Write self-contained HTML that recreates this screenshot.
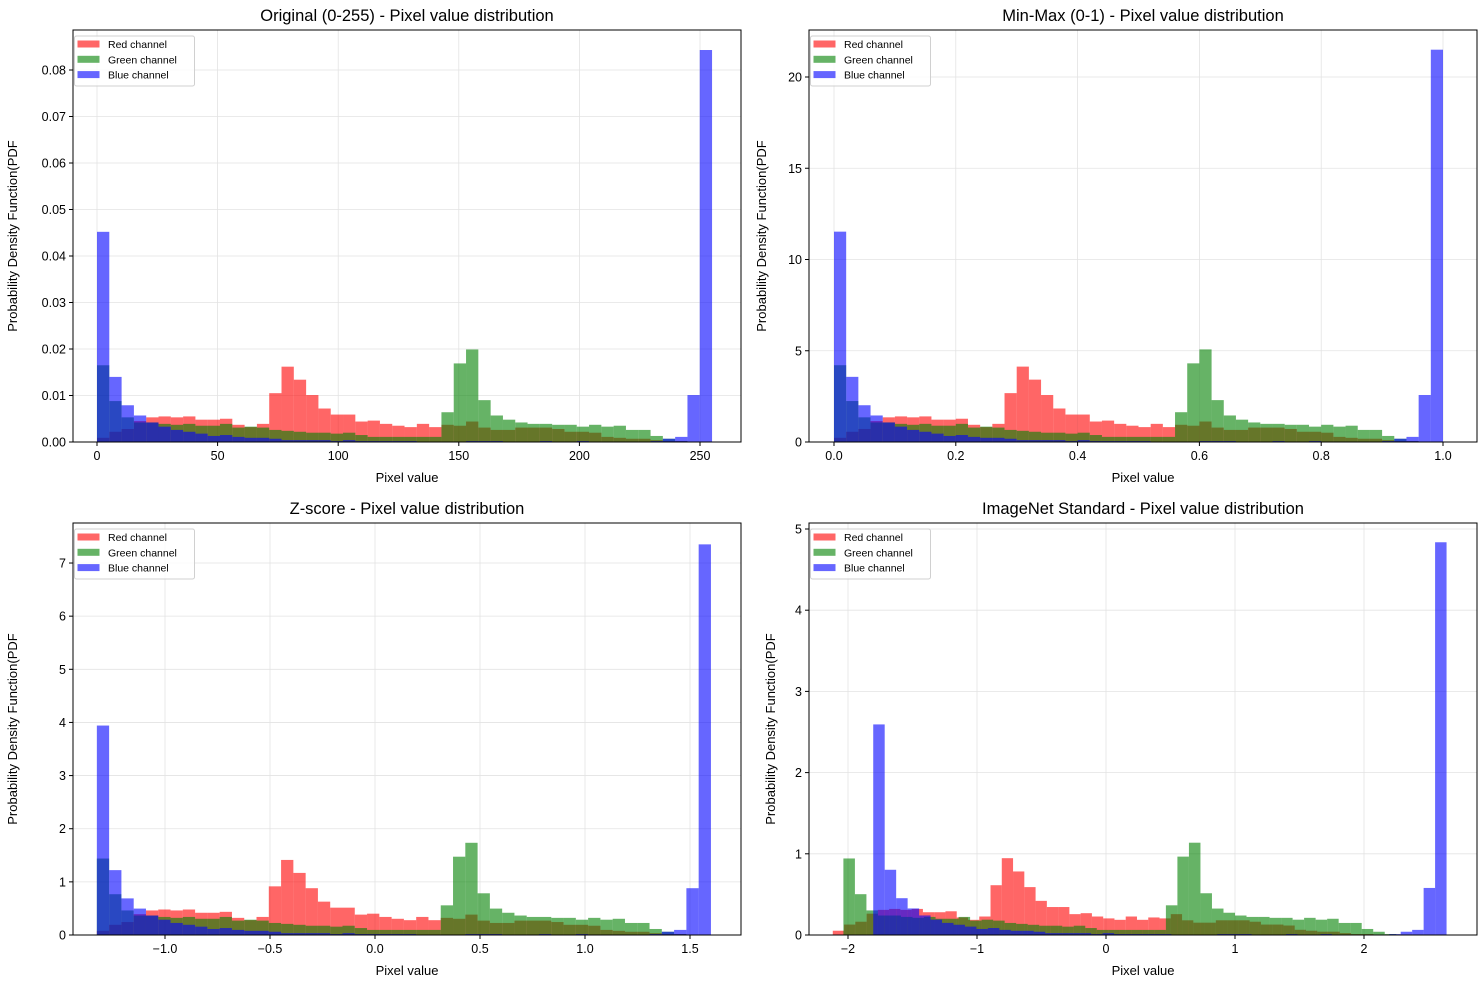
<!DOCTYPE html>
<html><head><meta charset="utf-8"><style>
html,body{margin:0;padding:0;background:#fff}
svg{display:block;font-family:"Liberation Sans","DejaVu Sans",sans-serif}
</style></head><body>
<svg id="fig" width="1483" height="982" xmlns="http://www.w3.org/2000/svg"></svg>
<script>
// Pixel-domain densities (x0.001) for 50 bins spanning 0..255
const redDensity = [0.9,2.2,2.8,4.5,5.3,5.5,5.3,5.5,4.8,4.8,5.0,3.7,3.2,3.9,10.5,16.2,13.4,10.1,7.2,5.9,5.9,4.4,4.6,3.9,3.5,3.2,3.9,3.2,3.7,3.5,4.4,3.1,2.6,2.6,3.1,3.1,3.1,2.8,2.2,2.2,2.0,1.1,0.9,0.7,0.7,0.4,0.2,0.2,0.1,0.1];
const greenDensity = [16.5,8.8,5.3,4.2,4.2,3.9,3.7,3.9,3.5,3.5,3.9,3.1,3.3,3.1,2.6,2.4,2.2,2.0,2.0,1.8,2.0,1.5,1.1,1.1,1.1,1.1,1.1,1.1,6.4,16.9,19.9,9.0,5.7,4.8,4.2,3.9,3.9,3.7,3.7,3.3,3.7,3.3,3.5,2.6,2.6,1.3,0.7,0.2,0.1,0.0];
const blueDensity = [45.2,14.0,7.9,5.7,4.2,3.3,2.6,2.2,1.8,1.3,1.5,1.1,0.9,0.9,0.7,0.4,0.4,0.4,0.4,0.2,0.4,0.2,0.2,0.2,0.2,0.2,0.1,0.1,0.1,0.1,0.2,0.2,0.2,0.1,0.1,0.1,0.2,0.1,0.1,0.2,0.1,0.1,0.1,0.1,0.1,0.2,0.7,1.1,10.1,84.3];
const panelTitles = ["Original (0-255) - Pixel value distribution","Min-Max (0-1) - Pixel value distribution","Z-score - Pixel value distribution","ImageNet Standard - Pixel value distribution"];
const xTicks1 = [0,50,100,150,200,250];
const yTicks1 = ["0.00","0.01","0.02","0.03","0.04","0.05","0.06","0.07","0.08"];
const xTicks2 = ["0.0","0.2","0.4","0.6","0.8","1.0"];
const yTicks2 = [0,5,10,15,20];
const xTicks3 = ["\u22121.0","\u22120.5","0.0","0.5","1.0","1.5"];
const yTicks3 = [0,1,2,3,4,5,6,7];
const xTicks4 = ["\u22122","\u22121","0","1","2"];
const yTicks4 = [0,1,2,3,4,5];
const zMean = 115.5, zStd = 87.2;
const inMean = [0.485,0.456,0.406], inStd = [0.229,0.224,0.225];
const channelNames = ["Red channel","Green channel","Blue channel"];
const channelColors = ["#ff0000","#008000","#0000ff"];

const NS="http://www.w3.org/2000/svg";
const fig=document.getElementById('fig');
function mk(tag,attrs,parent){const e=document.createElementNS(NS,tag);for(const k in attrs)e.setAttribute(k,attrs[k]);(parent||fig).appendChild(e);return e;}
const chans=[redDensity,greenDensity,blueDensity];

const panels=[
 {L:73,R:741,T:30,B:442,x0:97,xs:2.412,y0:442,ys:4650,xt:xTicks1.map(v=>[v,String(v)]),yt:yTicks1.map(v=>[parseFloat(v),v]),
  tr:(p,c)=>p, sc:(c)=>0.001},
 {L:809,R:1477,T:30,B:442,x0:834,xs:609,y0:442,ys:18.25,xt:xTicks2.map(v=>[parseFloat(v),v]),yt:yTicks2.map(v=>[v,String(v)]),
  tr:(p,c)=>p/255, sc:(c)=>0.001*255},
 {L:73,R:741,T:523,B:935,x0:375,xs:210,y0:935,ys:53.14,xt:xTicks3.map(v=>[parseFloat(v.replace('\u2212','-')),v]),yt:yTicks3.map(v=>[v,String(v)]),
  tr:(p,c)=>(p-zMean)/zStd, sc:(c)=>0.001*zStd},
 {L:809,R:1477,T:523,B:935,x0:1106,xs:129,y0:935,ys:81.2,xt:xTicks4.map(v=>[parseFloat(v.replace('\u2212','-')),v]),yt:yTicks4.map(v=>[v,String(v)]),
  tr:(p,c)=>(p/255-inMean[c])/inStd[c], sc:(c)=>0.001*255*inStd[c]}
];

panels.forEach((P,pi)=>{
  const g=mk('g',{});
  
  
  const X=v=>P.x0+v*P.xs, Y=v=>P.y0-v*P.ys;
  // grid
  P.xt.forEach(t=>{const l=mk('line',{x1:X(t[0]),x2:X(t[0]),y1:P.T,y2:P.B,stroke:'#e3e3e3','stroke-width':0.8},g);
    });
  P.yt.forEach(t=>{const l=mk('line',{x1:P.L,x2:P.R,y1:Y(t[0]),y2:Y(t[0]),stroke:'#e3e3e3','stroke-width':0.8},g);
    });
  // bars
  chans.forEach((arr,c)=>{
    const cg=mk('g',{fill:channelColors[c],'fill-opacity':0.6},g);
    
    
    const n=arr.length, w=255/n;
    arr.forEach((d,i)=>{
      const a=X(P.tr(i*w,c)), b=X(P.tr((i+1)*w,c));
      const h=d*P.sc(c)*P.ys;
      if(h<=0)return;
      const r=mk('rect',{x:a,y:P.y0-h,width:Math.max(b-a,0.1),height:h},cg);
      
      
    });
  });
  // frame
  const fr=mk('rect',{x:P.L,y:P.T,width:P.R-P.L,height:P.B-P.T,fill:'none',stroke:'#000','stroke-width':1},g);
  
  // ticks
  P.xt.forEach(t=>{mk('line',{x1:X(t[0]),x2:X(t[0]),y1:P.B,y2:P.B+4,stroke:'#000'},g);
    const tx=mk('text',{x:X(t[0]),y:P.B+18,'font-size':12.5,'text-anchor':'middle'},g);tx.textContent=t[1];
    });
  P.yt.forEach(t=>{mk('line',{x1:P.L-4,x2:P.L,y1:Y(t[0]),y2:Y(t[0]),stroke:'#000'},g);
    const tx=mk('text',{x:P.L-7,y:Y(t[0])+4.5,'font-size':12.5,'text-anchor':'end'},g);tx.textContent=t[1];
    });
  const cx=(P.L+P.R)/2;
  const ti=mk('text',{x:cx,y:P.T-9,'font-size':16.5,'text-anchor':'middle'},g);ti.textContent=panelTitles[pi];
  
  const xl=mk('text',{x:cx,y:P.B+40,'font-size':13,'text-anchor':'middle'},g);xl.textContent='Pixel value';
  
  const ylx=(pi%2==0)?17:(pi==1?766:775);
  const yl=mk('text',{x:ylx,y:(P.T+P.B)/2,'font-size':13,'text-anchor':'middle',transform:`rotate(-90 ${ylx} ${(P.T+P.B)/2})`},g);
  yl.textContent='Probability Density Function(PDF';
  
  // legend
  const lg=mk('g',{},g);
  
  mk('rect',{x:P.L+1.5,y:P.T+6,width:120,height:50,rx:2,fill:'#fff','fill-opacity':0.8,stroke:'#d0d0d0'},lg);
  channelNames.forEach((nm,c)=>{
    const yy=P.T+14+c*15.3;
    mk('rect',{x:P.L+4.5,y:yy-3.5,width:22,height:7,fill:channelColors[c],'fill-opacity':0.6},lg);
    const t=mk('text',{x:P.L+35,y:yy+4,'font-size':10.5},lg);t.textContent=nm;
    
  });
});
</script>
</body></html>
